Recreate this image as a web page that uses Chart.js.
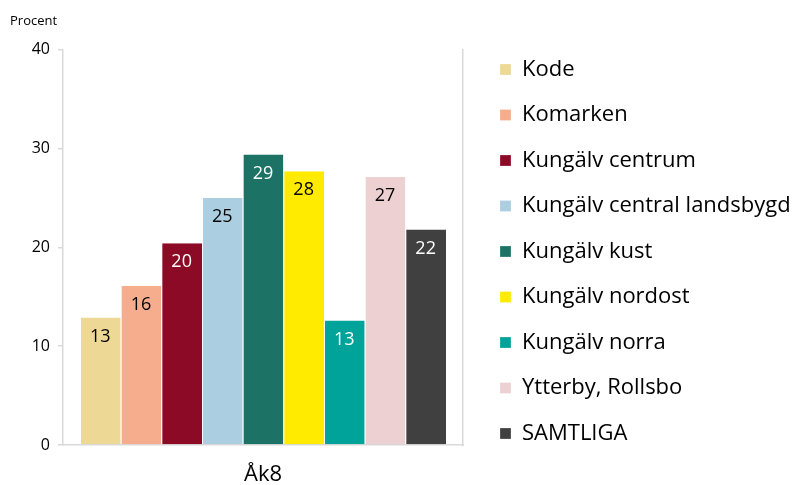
<!DOCTYPE html>
<html>
<head>
<meta charset="utf-8">
<script src="https://cdn.jsdelivr.net/npm/chart.js@4"></script>
<style>
  html, body { margin: 0; padding: 0; background: #fff; }
  #wrap { width: 797px; height: 485px; }
</style>
</head>
<body>
<div id="wrap"><canvas id="myChart" width="797" height="485"></canvas></div>
<script>
"use strict";
// data
const categories = ["Åk8"];
const areas = ["Kode", "Komarken", "Kungälv centrum", "Kungälv central landsbygd", "Kungälv kust",
  "Kungälv nordost", "Kungälv norra", "Ytterby, Rollsbo", "SAMTLIGA"];
const values = [12.9, 16.1, 20.4, 25.0, 29.4, 27.7, 12.6, 27.1, 21.8];
const colors = ["#EDD896", "#F5AD8E", "#8C0A25", "#ABCFE0", "#1C7265", "#FFEB00", "#00A39A", "#EDD1D2", "#404040"];
const labelColors = ["#000", "#000", "#fff", "#000", "#fff", "#000", "#fff", "#000", "#fff"];
const yTicks = [0, 10, 20, 30, 40];

const font = "'Open Sans', 'Liberation Sans', sans-serif";

// one dataset per area, all in the same category
const datasets = areas.map((name, i) => ({
  label: name,
  data: [values[i]],
  backgroundColor: colors[i],
  borderColor: "#ffffff",
  borderWidth: { left: 1, right: 0, top: 0, bottom: 0 },
  borderSkipped: false,
  categoryPercentage: 0.915,
  barPercentage: 1.0,
}));

// values inside the top of each bar
const valueLabels = {
  id: "valueLabels",
  afterDatasetsDraw(chart) {
    const ctx = chart.ctx;
    ctx.save();
    ctx.font = "18px " + font;
    ctx.textAlign = "center";
    ctx.textBaseline = "middle";
    chart.data.datasets.forEach((ds, i) => {
      const bar = chart.getDatasetMeta(i).data[0];
      ctx.fillStyle = labelColors[i];
      ctx.fillText(Math.round(ds.data[0]), bar.x, bar.y + 19);
    });
    ctx.restore();
  },
};

// push the legend column down a little, like the original
const legendNudge = {
  id: "legendNudge",
  afterLayout(chart) {
    chart.legend.top += 9;
    chart.legend.bottom += 9;
  },
};

const myChart = new Chart(document.getElementById("myChart"), {
  type: "bar",
  data: { labels: categories, datasets: datasets },
  options: {
    responsive: false,
    animation: false,
    layout: { padding: { left: 10, right: 0, top: 0, bottom: 0 } },
    plugins: {
      title: {
        display: true,
        text: "Procent",
        align: "start",
        color: "#000",
        font: { family: font, size: 13, weight: "normal" },
        padding: { top: 13, bottom: 21 },
      },
      legend: {
        display: true,
        position: "right",
        align: "center",
        maxWidth: 320.5,
        labels: {
          color: "#000",
          font: { family: font, size: 22 },
          boxWidth: 11,
          boxHeight: 11,
          padding: 23.5,
        },
      },
      tooltip: { enabled: false },
    },
    scales: {
      x: {
        afterFit: (scale) => { scale.height = 40; },
        grid: { display: false, drawTicks: false },
        border: { display: true, color: "#d9d9d9", width: 1.5 },
        ticks: { color: "#000", font: { family: font, size: 22 }, padding: 17 },
      },
      y: {
        min: 0,
        max: 40,
        afterBuildTicks: (scale) => { scale.ticks = yTicks.map((v) => ({ value: v })); },
        afterFit: (scale) => { scale.width = 53; },
        grid: { drawOnChartArea: false, color: "#d9d9d9", tickLength: 5, lineWidth: 1.5 },
        border: { color: "#d9d9d9", width: 1.5 },
        ticks: { color: "#000", font: { family: font, size: 16 }, padding: 8 },
      },
      y2: {
        position: "right",
        min: 0,
        max: 40,
        afterFit: (scale) => { scale.width = 13.5; },
        grid: { display: false },
        border: { color: "#d9d9d9", width: 1.5 },
        ticks: { display: false },
      },
    },
  },
  plugins: [valueLabels, legendNudge],
});
</script>
</body>
</html>
